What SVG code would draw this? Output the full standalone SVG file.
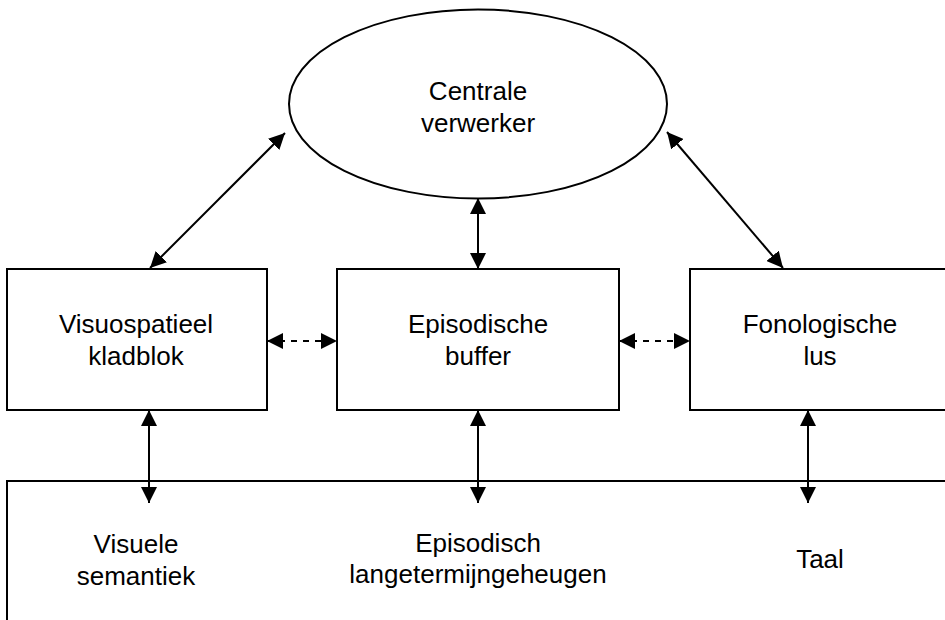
<svg xmlns="http://www.w3.org/2000/svg" width="945" height="620" viewBox="0 0 945 620">
<style>
.shape{fill:#fff;stroke:#000;stroke-width:2}
.lbl{font-family:"Liberation Sans",Arial,sans-serif;font-size:26px;fill:#000;text-anchor:middle}
.conn{stroke:#000;stroke-width:2;fill:none;marker-start:url(#ah);marker-end:url(#ah)}
.dash{stroke-dasharray:6 6}
</style>
<defs>
<marker id="ah" markerUnits="userSpaceOnUse" markerWidth="16" markerHeight="16" viewBox="0 0 15 15" refX="15" refY="7.5" orient="auto-start-reverse">
<path d="M0,0 L15,7.5 L0,15 z" fill="#000"/>
</marker>
</defs>
<rect width="945" height="620" fill="#fff"/>
<g id="centrale-verwerker">
<ellipse class="shape" cx="478" cy="104" rx="189" ry="94.5"/>
<text class="lbl" x="478" y="100">Centrale</text>
<text class="lbl" x="478" y="132">verwerker</text>
</g>
<g id="visuospatieel-kladblok">
<rect class="shape" x="7" y="269" width="260" height="141"/>
<text class="lbl" x="136" y="333">Visuospatieel</text>
<text class="lbl" x="136" y="365">kladblok</text>
</g>
<g id="episodische-buffer">
<rect class="shape" x="337" y="269" width="282" height="141"/>
<text class="lbl" x="478" y="333">Episodische</text>
<text class="lbl" x="478" y="365">buffer</text>
</g>
<g id="fonologische-lus">
<rect class="shape" x="690" y="269" width="265" height="141"/>
<text class="lbl" x="820" y="333">Fonologische</text>
<text class="lbl" x="820" y="365">lus</text>
</g>
<g id="langetermijngeheugen">
<rect class="shape" x="7" y="481" width="950" height="150"/>
<text class="lbl" x="136" y="553">Visuele</text>
<text class="lbl" x="136" y="585">semantiek</text>
<text class="lbl" x="478" y="552">Episodisch</text>
<text class="lbl" x="478" y="583">langetermijngeheugen</text>
<text class="lbl" x="820" y="568">Taal</text>
</g>
<g id="connectors">
<line class="conn" x1="150" y1="268" x2="285" y2="133"/>
<line class="conn" x1="478" y1="269" x2="478" y2="198"/>
<line class="conn" x1="783" y1="268" x2="667" y2="132"/>
<line class="conn dash" x1="267" y1="341" x2="337" y2="341"/>
<line class="conn dash" x1="619" y1="341" x2="690" y2="341"/>
<line class="conn" x1="149" y1="410" x2="149" y2="503"/>
<line class="conn" x1="478" y1="410" x2="478" y2="503"/>
<line class="conn" x1="808" y1="410" x2="808" y2="503"/>
</g>
</svg>
